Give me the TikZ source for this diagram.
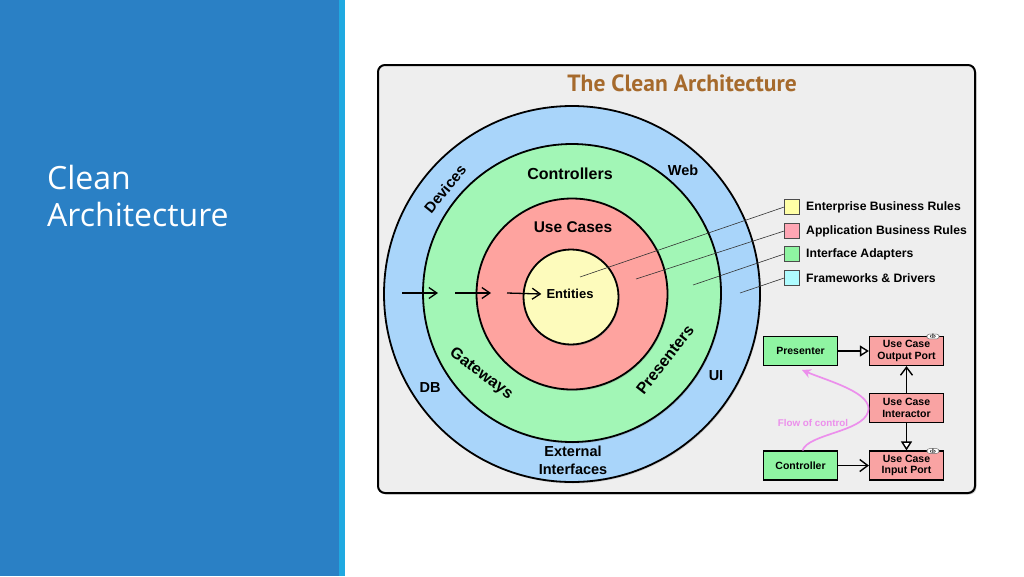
\documentclass[tikz,border=0pt]{standalone}
\usepackage{fontspec}
\setmainfont{Liberation Sans}
\newfontfamily\slidefont{Open Sans}
\newfontfamily\titlefont{PT Sans}
\usetikzlibrary{arrows.meta,shadows}

\definecolor{panelblue}{HTML}{2A80C5}
\definecolor{stripeblue}{HTML}{1FA9E1}
\definecolor{boxgray}{HTML}{EEEEEE}
\definecolor{titlebrown}{HTML}{A66A2C}
\definecolor{ringblue}{HTML}{A9D5FA}
\definecolor{ringgreen}{HTML}{A2F6B6}
\definecolor{ringred}{HTML}{FEA39F}
\definecolor{ringyellow}{HTML}{FDFBBC}
\definecolor{keyyellow}{HTML}{FFFFA6}
\definecolor{keypink}{HTML}{FFA6B4}
\definecolor{keygreen}{HTML}{8FF5A2}
\definecolor{keycyan}{HTML}{AEFCFF}
\definecolor{flowpink}{HTML}{EC8FEC}
\definecolor{portred}{HTML}{F9A3A3}

\tikzset{
  ring/.style={circle, draw=black, line width=1.8pt, inner sep=0pt,
    drop shadow={opacity=0.3, shadow xshift=1pt, shadow yshift=-1.5pt}},
  ringlabel/.style={font=\bfseries\fontsize{14.5}{14.5}\selectfont, inner sep=0pt},
  arclabel/.style={font=\bfseries\fontsize{16}{16}\selectfont, inner sep=0pt},
  keybox/.style={draw=black!70, line width=0.6pt, minimum size=15pt, inner sep=0pt},
  keytext/.style={right, font=\bfseries\fontsize{12.2}{13}\selectfont, inner sep=0pt},
  leader/.style={draw=black!80, line width=0.6pt},
  flowbox/.style={draw=black, line width=1.2pt, minimum width=74pt, minimum height=29pt,
    inner sep=1pt, align=center, font=\bfseries\fontsize{10.5}{11.5}\selectfont},
  dep/.style={line width=1.4pt},
  inward/.style={line width=1.3pt, -{Straight Barb[length=8pt,width=11pt]}},
  portmark/.style={fill=white, draw=black!60, line width=0.4pt, rounded corners=2.5pt,
    inner xsep=3pt, inner ysep=0.2pt, font=\bfseries\fontsize{6.5}{6.5}\selectfont}
}

\begin{document}
\begin{tikzpicture}[x=1pt,y=-1pt]
\useasboundingbox (0,0) rectangle (1024,576);
\fill[white] (0,0) rectangle (1024,576);

% slide panel
\fill[panelblue] (0,0) rectangle (339,576);
\fill[stripeblue] (339,0) rectangle (345,576);
\node[anchor=base west, inner sep=0pt, text=white, font=\slidefont\fontsize{32}{32}\selectfont] (slide1) at (47,189) {Clean};
\node[anchor=base west, inner sep=0pt, text=white, font=\slidefont\fontsize{32}{32}\selectfont] (slide2) at (47,226) {Architecture};

% frame
\draw[line width=2pt, fill=boxgray, rounded corners=7pt,
  drop shadow={opacity=0.35, shadow xshift=1.5pt, shadow yshift=-1.5pt}] (378,65) rectangle (975,493);
\node[text=titlebrown, font=\titlefont\bfseries\fontsize{23.5}{23.5}\selectfont] (title) at (682,83) {The Clean Architecture};

% rings
\node[ring, fill=ringblue, minimum size=376pt] (drivers) at (572,294) {};
\node[ring, fill=ringgreen, minimum size=298pt] (adapters) at (572,293) {};
\node[ring, fill=ringred, minimum size=191pt] (usecases) at (572,294) {};
\node[ring, fill=ringyellow, minimum size=95pt] (entities) at (571,297) {};

\node[ringlabel, font=\bfseries\fontsize{13}{13}\selectfont] (entlabel) at (570,294) {Entities};
\node[ringlabel, font=\bfseries\fontsize{15.5}{15.5}\selectfont] (uclabel) at (573,227) {Use Cases};
\node[ringlabel, font=\bfseries\fontsize{16}{16}\selectfont] (ctrllabel) at (570,174) {Controllers};
\node[arclabel, rotate=-37] (gwlabel) at (481,374) {Gateways};
\node[arclabel, rotate=52] (prlabel) at (665,360) {Presenters};
\node[arclabel, rotate=51, font=\bfseries\fontsize{15}{15}\selectfont] (devlabel) at (445,189) {Devices};
\node[ringlabel] (weblabel) at (683,170) {Web};
\node[ringlabel] (uilabel) at (716,376) {UI};
\node[ringlabel] (dblabel) at (430,388) {DB};
\node[ringlabel, align=center, font=\bfseries\fontsize{14.5}{18}\selectfont] (extlabel) at (573,460) {External\\Interfaces};

% dependency arrows
\coordinate (a1) at (402,293);
\coordinate (a2) at (438,293);
\coordinate (a3) at (455,293);
\coordinate (a4) at (491,293);
\coordinate (a5) at (507,293);
\draw[inward] (a1) -- (a2);
\draw[inward] (a3) -- (a4);
\draw[inward] (a5) -- ([xshift=-5pt]entlabel.west);

% legend
\node[keybox, fill=keyyellow] (key1) at (792,207) {};
\node[keybox, fill=keypink] (key2) at (792,231) {};
\node[keybox, fill=keygreen] (key3) at (792,254) {};
\node[keybox, fill=keycyan] (key4) at (792,278) {};
\node[keytext] (keytext1) at (806,207) {Enterprise Business Rules};
\node[keytext] (keytext2) at (806,231) {Application Business Rules};
\node[keytext] (keytext3) at (806,254) {Interface Adapters};
\node[keytext] (keytext4) at (806,278) {Frameworks \& Drivers};

\coordinate (p1) at (580,277);
\coordinate (p2) at (636,279);
\coordinate (p3) at (693,285);
\coordinate (p4) at (740,293);
\draw[leader] (key1.west) -- (p1);
\draw[leader] (key2.west) -- (p2);
\draw[leader] (key3.west) -- (p3);
\draw[leader] (key4.west) -- (p4);

% flow diagram
\node[flowbox, fill=keygreen] (presenter) at (800.5,351) {Presenter};
\node[flowbox, fill=portred] (outport) at (906.5,351) {Use Case\\Output Port};
\node[flowbox, fill=portred] (interactor) at (906.5,408) {Use Case\\Interactor};
\node[flowbox, fill=portred] (inport) at (906.5,465.5) {Use Case\\Input Port};
\node[flowbox, fill=keygreen] (controller) at (800.5,465.5) {Controller};
\node[portmark] (outmark) at (933,336.5) {‹I›};
\node[portmark] (inmark) at (933,451) {‹I›};

\draw[dep, -{Triangle[open, fill=white, length=9pt, width=11pt]}] (presenter) -- (outport);
\draw[dep, -{Straight Barb[length=8pt,width=12pt]}] (interactor) -- (outport);
\draw[dep, -{Triangle[open, fill=white, length=9pt, width=11pt]}] (interactor) -- (inport);
\draw[dep, -{Straight Barb[length=8pt,width=12pt]}] (controller) -- (inport);

\coordinate (flowtip) at (802,370);
\draw[flowpink, line width=1.7pt, -{Stealth[length=9pt,width=9pt]}]
  ([xshift=2pt]controller.north) .. controls (808,434) and (862,432) .. (868,412)
  .. controls (874,393) and (828,381) .. (flowtip);
\node[text=flowpink, font=\bfseries\fontsize{9.8}{10}\selectfont] (flowlabel) at (813,423) {Flow of control};
\end{tikzpicture}
\end{document}
